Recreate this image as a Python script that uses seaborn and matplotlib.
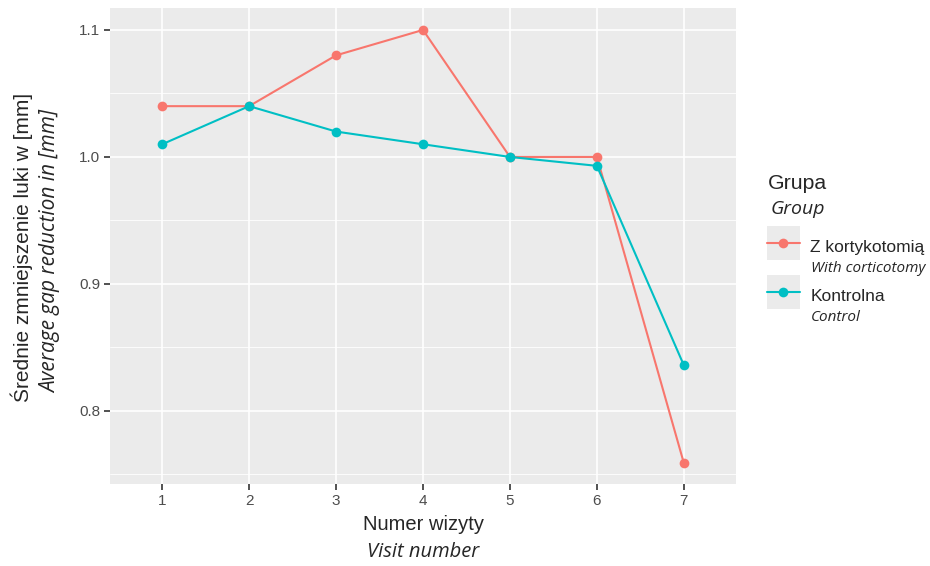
import matplotlib
matplotlib.use("Agg")
import matplotlib.pyplot as plt
import seaborn as sns
import pandas as pd
from matplotlib.lines import Line2D
from matplotlib.patches import Rectangle
from matplotlib.legend_handler import HandlerTuple, HandlerPatch

visits = [1, 2, 3, 4, 5, 6, 7]
corticotomy = [1.04, 1.04, 1.08, 1.10, 1.00, 1.00, 0.759]
control = [1.01, 1.04, 1.02, 1.01, 1.00, 0.993, 0.836]
groups = ["Z kortykotomią", "Kontrolna"]
group_en = ["With corticotomy", "Control"]
colors = ["#F8766D", "#00BFC4"]
yticks = [0.8, 0.9, 1.0, 1.1]
ytick_labels = ["0.8", "0.9", "1.0", "1.1"]

df = pd.DataFrame({
    "visit": visits * 2,
    "value": corticotomy + control,
    "group": [groups[0]] * len(visits) + [groups[1]] * len(visits),
})

sns.set_theme(style="darkgrid")
plt.rcParams["font.family"] = ["Liberation Sans", "DejaVu Sans"]
ITAL = ["Open Sans", "DejaVu Sans"]

fig = plt.figure(figsize=(9.3, 5.66), dpi=100)
ax = fig.add_axes([0.1183, 0.1449, 0.6731, 0.8410])
ax.set_facecolor("#EBEBEB")

sns.lineplot(data=df, x="visit", y="value", hue="group", hue_order=groups,
             palette=colors, marker="o", markersize=7, markeredgewidth=0,
             linewidth=1.5, ax=ax, legend=False)

ax.set_xlim(0.4, 7.6)
ax.set_ylim(0.7425, 1.1173)
ax.set_xticks(visits)
ax.set_yticks(yticks)
ax.set_yticklabels(ytick_labels)
ax.set_yticks([0.75, 0.85, 0.95, 1.05], minor=True)
ax.grid(True, which="major", color="white", linewidth=1.2)
ax.grid(True, which="minor", color="white", linewidth=0.6)
for s in ax.spines.values():
    s.set_visible(False)
ax.tick_params(axis="both", which="major", length=4, width=1.2, color="#333333",
               labelsize=11, labelcolor="#4D4D4D", pad=3, left=True, bottom=True)
ax.tick_params(axis="y", which="minor", length=0)
ax.set_xlabel("")
ax.set_ylabel("")

xc = (0.1183 + 0.7914) / 2
# axis titles
fig.text(xc, 0.0742, "Numer wizyty", ha="center", va="center", fontsize=14.5)
fig.text(xc, 0.025, "Visit number", ha="center", va="center",
         fontsize=14.5, style="italic", family=ITAL)
fig.text(0.0237, 0.5627, "Średnie zmniejszenie luki w [mm]", rotation=90,
         ha="center", va="center", fontsize=15)
fig.text(0.0548, 0.5565, "Average gap reduction in [mm]", rotation=90,
         ha="center", va="center", fontsize=15, style="italic", family=ITAL)

# legend titles
fig.text(0.8258, 1 - 183 / 566, "Grupa", ha="left", va="center", fontsize=15.3)
fig.text(0.8290, 1 - 209 / 566, "Group", ha="left", va="center", fontsize=14,
         style="italic", family=ITAL)


# legend entries: grey key square centred on the line
def key_square(legend, orig_handle, xdescent, ydescent, width, height, fontsize):
    side = 24.5
    yc = (height - ydescent) / 2
    return Rectangle((-xdescent, yc - side / 2), width, side)


handles = [(Rectangle((0, 0), 1, 1, facecolor="#EBEBEB", edgecolor="none"),
            Line2D([0], [0], color=c, marker="o", markersize=7,
                   markeredgewidth=0, linewidth=1.5)) for c in colors]
leg = fig.legend(handles, groups, loc="upper left",
                 bbox_to_anchor=(767 / 930, 1 - 233 / 566),
                 bbox_transform=fig.transFigure, frameon=False,
                 borderaxespad=0, borderpad=0,
                 fontsize=12.5, handlelength=1.9, handleheight=2.1,
                 labelspacing=1.21, handletextpad=0.6,
                 handler_map={tuple: HandlerTuple(ndivide=1, pad=0),
                              Rectangle: HandlerPatch(patch_func=key_square)})

fig.canvas.draw()
for t, en in zip(leg.get_texts(), group_en):
    ax.annotate(en, xy=(0, 0.5), xycoords=t, xytext=(0.5, -14.5),
                textcoords="offset points", ha="left", va="center", fontsize=11,
                style="italic", family=ITAL, annotation_clip=False)

fig.savefig("out.png", dpi=100)
